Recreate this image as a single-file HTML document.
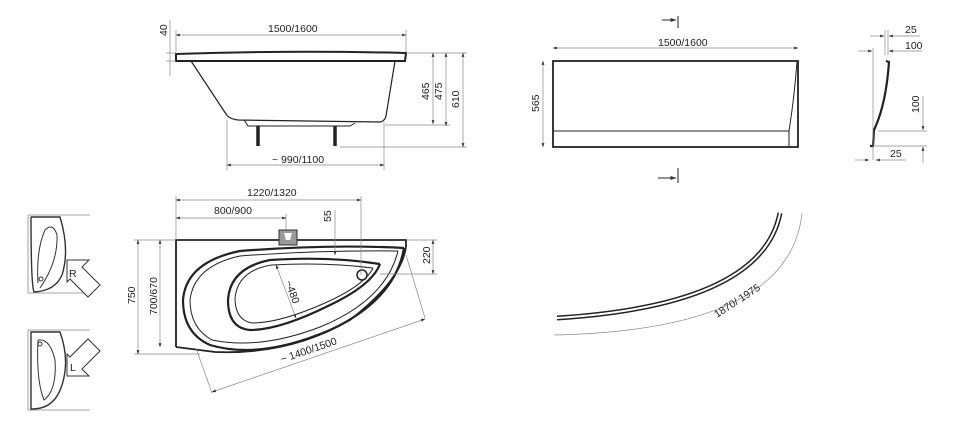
<!DOCTYPE html>
<html><head><meta charset="utf-8"><style>
html,body{margin:0;padding:0;background:#fff;width:954px;height:427px;overflow:hidden}
text{font-family:"Liberation Sans",sans-serif;font-size:10.5px;fill:#222}
</style></head><body>
<svg width="954" height="427" viewBox="0 0 954 427" xmlns="http://www.w3.org/2000/svg">
<defs><marker id="a" markerWidth="6" markerHeight="6" refX="5.5" refY="3" orient="auto-start-reverse"><path d="M0,1 L6,3 L0,5z" fill="#333"/></marker></defs>
<g fill="none">
<!-- TOP BATHTUB SIDE VIEW -->
<g stroke="#222">
<path stroke-width="2" d="M176,54 Q290,50 406,53 L405,61 L176,61 Z"/>
<path stroke-width="1.2" d="M191,61 L226,114 Q229,119 238,120 L380,122 Q385,121 386,116 L395,61"/>
<path stroke-width="1" d="M244,120 L248,126 L350,126 L355,123"/>
<line x1="258" y1="126" x2="258" y2="146" stroke-width="3.5"/>
<line x1="335" y1="126" x2="335" y2="146" stroke-width="3.5"/>
</g>
<g stroke="#888" stroke-width="0.7">
<line x1="176" y1="35" x2="406" y2="35" marker-start="url(#a)" marker-end="url(#a)"/>
<line x1="176" y1="30" x2="176" y2="52"/><line x1="406" y1="30" x2="406" y2="52"/>
<line x1="170" y1="20" x2="170" y2="76"/>
<line x1="166" y1="53" x2="176" y2="53"/><line x1="166" y1="61" x2="176" y2="61"/>
<line x1="406" y1="53" x2="467" y2="53"/>
<line x1="433" y1="53" x2="433" y2="124" marker-start="url(#a)" marker-end="url(#a)"/>
<line x1="446" y1="53" x2="446" y2="126" marker-start="url(#a)" marker-end="url(#a)"/>
<line x1="463" y1="53" x2="463" y2="147" marker-start="url(#a)" marker-end="url(#a)"/>
<line x1="385" y1="125" x2="450" y2="125"/><line x1="340" y1="147" x2="467" y2="147"/>
<line x1="227" y1="120" x2="227" y2="170"/><line x1="384" y1="122" x2="384" y2="170"/>
<line x1="227" y1="165" x2="384" y2="165" marker-start="url(#a)" marker-end="url(#a)"/>
</g>

<!-- FRONT PANEL -->
<g stroke="#222">
<rect x="553" y="61" width="245" height="86" stroke-width="1.8"/>
<line x1="553" y1="131" x2="789" y2="131" stroke-width="1"/>
<path stroke-width="1" d="M797,62 Q794,100 789,131 L789,147"/>
<line x1="678" y1="16" x2="678" y2="28" stroke-width="1"/><line x1="662" y1="20" x2="676" y2="20" stroke-width="1" marker-end="url(#a)"/>
<line x1="678" y1="168" x2="678" y2="183" stroke-width="1"/><line x1="658" y1="178" x2="676" y2="178" stroke-width="1" marker-end="url(#a)"/>
</g>
<g stroke="#888" stroke-width="0.7">
<line x1="553" y1="48" x2="798" y2="48" marker-start="url(#a)" marker-end="url(#a)"/>
<line x1="543" y1="61" x2="543" y2="147" marker-start="url(#a)" marker-end="url(#a)"/>
</g>

<!-- PROFILE -->
<path stroke="#222" stroke-width="2.2" d="M886,61 L889,62 Q886,105 874,130 L873,146 L870,146"/>
<g stroke="#888" stroke-width="0.7">
<line x1="873" y1="48" x2="873" y2="160"/>
<line x1="885" y1="30" x2="885" y2="55"/><line x1="888" y1="30" x2="888" y2="55"/>
<line x1="870" y1="36" x2="884" y2="36" marker-end="url(#a)"/><line x1="889" y1="36" x2="920" y2="36" marker-start="url(#a)"/>
<line x1="858" y1="51" x2="872" y2="51" marker-end="url(#a)"/><line x1="889" y1="51" x2="922" y2="51" marker-start="url(#a)"/>
<line x1="878" y1="131" x2="927" y2="131"/><line x1="875" y1="146" x2="927" y2="146"/>
<line x1="923" y1="96" x2="923" y2="130" marker-end="url(#a)"/><line x1="923" y1="147" x2="923" y2="163" marker-start="url(#a)"/>
<line x1="855" y1="160" x2="869" y2="160" marker-end="url(#a)"/><line x1="876" y1="160" x2="906" y2="160" marker-start="url(#a)"/>
</g>

<!-- PLAN VIEW -->
<g stroke="#222">
<path stroke-width="1.8" d="M176,347 L176,240 L406,240 L406,246 Q402,280 350,320 Q290,355 215,352 L176,347"/>
<path stroke-width="2.2" d="M404,248 Q395,300 330,330 Q260,360 210,345 Q183,333 183,300 Q186,262 240,251 Q330,244 404,248"/>
<path stroke-width="1" d="M398,251 Q386,300 320,327 Q260,350 212,340 Q190,328 190,300 Q194,266 240,256 Q320,250 398,251"/>
<path stroke-width="2.2" d="M380,264 Q372,285 330,305 Q280,330 250,330 Q228,328 228,300 Q230,268 270,260 Q330,256 380,264"/>
<path stroke-width="1" d="M373,268 Q365,285 325,303 Q280,323 252,323 Q235,320 235,298 Q238,270 272,265 Q325,262 373,268"/>
<circle cx="362" cy="275" r="5" stroke-width="1.5"/>
</g>
<rect x="279" y="230" width="18" height="15" fill="#999" stroke="#333"/>
<path d="M284,233 L292,233 L290,240 L286,240 Z" fill="#fff"/>
<g stroke="#888" stroke-width="0.7">
<line x1="176" y1="196" x2="176" y2="240"/><line x1="361" y1="196" x2="361" y2="275"/><line x1="286" y1="214" x2="286" y2="230"/>
<line x1="176" y1="200" x2="361" y2="200" marker-start="url(#a)" marker-end="url(#a)"/>
<line x1="176" y1="218" x2="286" y2="218" marker-start="url(#a)" marker-end="url(#a)"/>
<line x1="335" y1="210" x2="335" y2="255" marker-end="url(#a)"/>
<line x1="134" y1="240" x2="176" y2="240"/><line x1="134" y1="354" x2="200" y2="354"/>
<line x1="138" y1="240" x2="138" y2="354" marker-start="url(#a)" marker-end="url(#a)"/>
<line x1="160" y1="240" x2="160" y2="347" marker-start="url(#a)" marker-end="url(#a)"/>
<line x1="406" y1="240" x2="437" y2="240"/><line x1="380" y1="274" x2="437" y2="274"/>
<line x1="433" y1="240" x2="433" y2="274" marker-start="url(#a)" marker-end="url(#a)"/>
<line x1="276" y1="265" x2="296" y2="318" marker-start="url(#a)" marker-end="url(#a)"/>
<line x1="406" y1="255" x2="425" y2="318"/><line x1="196" y1="348" x2="212" y2="393"/>
<line x1="212" y1="392" x2="425" y2="319" marker-start="url(#a)" marker-end="url(#a)"/>
</g>

<!-- ICONS -->
<g stroke="#888" stroke-width="0.8">
<line x1="28" y1="215" x2="90" y2="215"/><line x1="28" y1="293" x2="90" y2="293"/>
<line x1="28" y1="330" x2="90" y2="330"/><line x1="28" y1="410" x2="90" y2="410"/>
<line x1="28" y1="215" x2="28" y2="293"/><line x1="28" y1="330" x2="28" y2="410"/>
</g>
<g stroke="#333" stroke-width="1">
<path stroke-width="1.4" d="M31,217 L60,217 Q70,250 62,275 Q55,291 34,292 Q31,285 31,217"/>
<path d="M38,283 Q36,250 45,230 Q53,222 57,235 Q58,262 40,288"/>
<circle cx="41" cy="279" r="2"/>
<path stroke-width="1.4" d="M31,409 L31,332 L60,332 Q70,360 62,385 Q55,408 34,409 Z"/>
<path d="M38,340 Q50,338 55,360 Q57,390 44,400 Q36,380 38,340"/>
<circle cx="40" cy="344" r="2"/>
<path fill="#fff" d="M67,260 L89,260 L82,267 L100,285 L88,297 L70,279 L67,282 Z"/>
<path fill="#fff" d="M67,376 L89,376 L82,369 L100,351 L88,339 L70,357 L67,354 Z"/>
</g>
<text x="69" y="277" font-size="14">R</text>
<text x="70" y="371" font-size="14">L</text>

<!-- ARC PANEL -->
<path d="M780,213 Q762,305 557,318" stroke="#222" stroke-width="5"/>
<path d="M780,213 Q762,305 557,318" stroke="#fff" stroke-width="2"/>
<path d="M802,213 Q790,330 554,335" stroke="#888" stroke-width="0.7"/>
</g>

<text x="268" y="32">1500/1600</text>
<text transform="translate(167,36) rotate(-90)">40</text>
<text transform="translate(429,100) rotate(-90)">465</text>
<text transform="translate(442,100) rotate(-90)">475</text>
<text transform="translate(459,108) rotate(-90)">610</text>
<text x="272" y="163">~ 990/1100</text>
<text x="658" y="46" font-size="9">1500/1600</text>
<text transform="translate(539,112) rotate(-90)">565</text>
<text x="905" y="33" font-size="11">25</text>
<text x="905" y="49" font-size="11">100</text>
<text transform="translate(919,113) rotate(-90)" font-size="11">100</text>
<text x="890" y="157" font-size="11">25</text>
<text x="247" y="196">1220/1320</text>
<text x="214" y="214">800/900</text>
<text transform="translate(331,222) rotate(-90)">55</text>
<text transform="translate(135,304) rotate(-90)">750</text>
<text transform="translate(157,315) rotate(-90)">700/670</text>
<text transform="translate(430,264) rotate(-90)">220</text>
<text transform="translate(285,282) rotate(70)">~480</text>
<text transform="translate(282,363) rotate(-19)">~ 1400/1500</text>
<text transform="translate(717,318) rotate(-33)" font-size="10">1870/ 1975</text>
</svg>
</body></html>
